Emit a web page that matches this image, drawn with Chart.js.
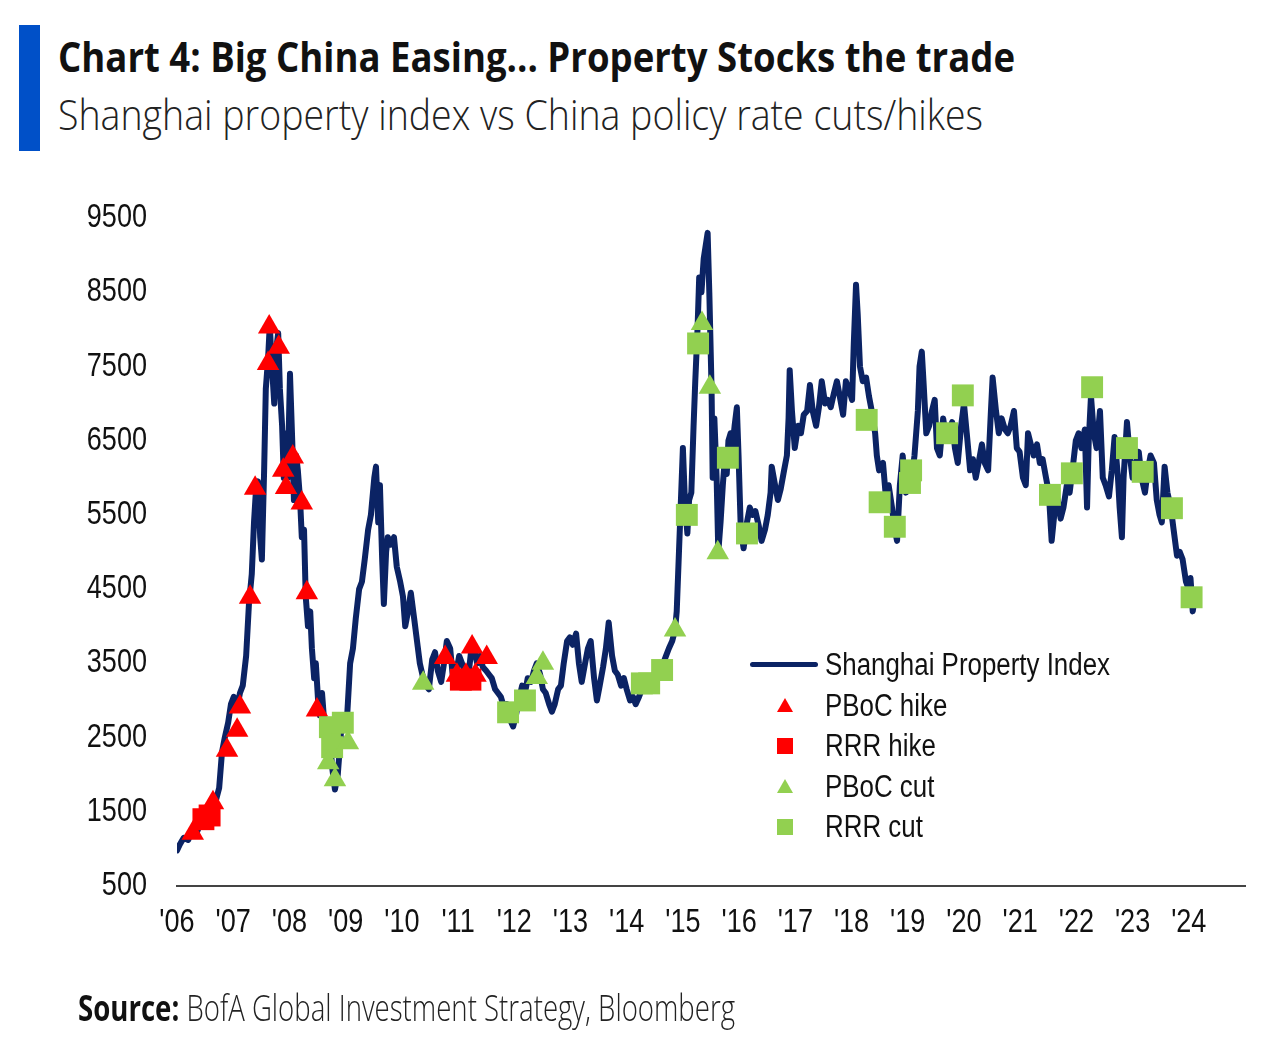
<!DOCTYPE html>
<html>
<head>
<meta charset="utf-8">
<script src="https://cdn.jsdelivr.net/npm/chart.js@4.4.1/dist/chart.umd.min.js"></script>
<style>
  body { margin: 0; background: #fff; width: 1280px; height: 1040px; overflow: hidden; position: relative; font-family: 'Open Sans', sans-serif; }
  #chart { position: absolute; left: 0; top: 0; }
  .bar { position: absolute; left: 19px; top: 25px; width: 21px; height: 126px; background: #0050c8; }
  .fit { position: absolute; white-space: nowrap; transform-origin: 0 0; color: #111; line-height: 1; }
  #title { left: 58px; top: 35px; font-size: 42px; font-weight: 700; }
  #subtitle { left: 58px; top: 93px; font-size: 42px; font-weight: 300; color: #222; }
  #source { left: 78px; top: 990px; font-size: 36px; font-weight: 300; color: #222; }
  #source b { font-weight: 700; color: #111; }
  .leg { position: absolute; left: 740px; height: 40px; display: flex; align-items: center; font-family: 'Liberation Sans', sans-serif; font-size: 31px; color: #111; }
  .leg span { display: inline-block; white-space: nowrap; transform-origin: 0 50%; }
  .sym { width: 85px; height: 40px; position: relative; flex: none; }
  .sym .ln { position: absolute; left: 10px; top: 17px; width: 68px; height: 5px; border-radius: 3px; background: #0b2364; }
  .sym .tri { position: absolute; left: 37px; top: 12px; width: 16px; height: 14px; clip-path: polygon(50% 0, 100% 100%, 0 100%); }
  .sym .sq { position: absolute; left: 37px; top: 12px; width: 16px; height: 16px; }
</style>
</head>
<body>
<div class="bar"></div>
<div class="fit" id="title">Chart 4: Big China Easing... Property Stocks the trade</div>
<div class="fit" id="subtitle">Shanghai property index vs China policy rate cuts/hikes</div>
<canvas id="chart" width="1280" height="1040"></canvas>
<div class="leg" style="top:645px"><div class="sym"><div class="ln"></div></div><span id="leg0">Shanghai Property Index</span></div>
<div class="leg" style="top:686px"><div class="sym"><div class="tri" style="background:#ff0000"></div></div><span>PBoC hike</span></div>
<div class="leg" style="top:726px"><div class="sym"><div class="sq" style="background:#ff0000"></div></div><span>RRR hike</span></div>
<div class="leg" style="top:767px"><div class="sym"><div class="tri" style="background:#92d050"></div></div><span>PBoC cut</span></div>
<div class="leg" style="top:807px"><div class="sym"><div class="sq" style="background:#92d050"></div></div><span>RRR cut</span></div>
<div class="fit" id="source"><b>Source:</b> BofA Global Investment Strategy, Bloomberg</div>

<script>
// ---------------------------------------------------------------------
// Datos (años decimales / nivel del índice)
// ---------------------------------------------------------------------
const fechas = [
  2006.00, 2006.05, 2006.12, 2006.20, 2006.27, 2006.34, 2006.41, 2006.48, 2006.55, 2006.62,
  2006.69, 2006.75, 2006.80, 2006.85, 2006.91, 2006.96, 2007.01, 2007.07, 2007.12, 2007.17,
  2007.23, 2007.28, 2007.33, 2007.37, 2007.41, 2007.44, 2007.48, 2007.51, 2007.55, 2007.58,
  2007.62, 2007.65, 2007.69, 2007.73, 2007.76, 2007.80, 2007.83, 2007.87, 2007.90, 2007.94,
  2007.97, 2008.01, 2008.05, 2008.08, 2008.12, 2008.15, 2008.19, 2008.22, 2008.26, 2008.29,
  2008.33, 2008.37, 2008.40, 2008.44, 2008.47, 2008.51, 2008.54, 2008.58, 2008.62, 2008.65,
  2008.69, 2008.72, 2008.76, 2008.81, 2008.86, 2008.92, 2008.97, 2009.02, 2009.08, 2009.13,
  2009.18, 2009.24, 2009.29, 2009.34, 2009.40, 2009.45, 2009.51, 2009.54, 2009.58, 2009.61,
  2009.65, 2009.68, 2009.72, 2009.75, 2009.80, 2009.86, 2009.91, 2009.97, 2010.02, 2010.06,
  2010.11, 2010.16, 2010.22, 2010.27, 2010.32, 2010.38, 2010.43, 2010.48, 2010.54, 2010.59,
  2010.64, 2010.70, 2010.75, 2010.80, 2010.86, 2010.91, 2010.96, 2011.02, 2011.07, 2011.12,
  2011.18, 2011.23, 2011.28, 2011.34, 2011.39, 2011.44, 2011.50, 2011.55, 2011.60, 2011.66,
  2011.71, 2011.76, 2011.82, 2011.87, 2011.92, 2011.98, 2012.03, 2012.08, 2012.14, 2012.19,
  2012.24, 2012.30, 2012.35, 2012.40, 2012.46, 2012.51, 2012.56, 2012.62, 2012.67, 2012.72,
  2012.78, 2012.83, 2012.88, 2012.94, 2012.99, 2013.04, 2013.10, 2013.15, 2013.20, 2013.26,
  2013.31, 2013.36, 2013.42, 2013.47, 2013.52, 2013.58, 2013.63, 2013.68, 2013.74, 2013.79,
  2013.84, 2013.90, 2013.95, 2014.00, 2014.06, 2014.11, 2014.16, 2014.22, 2014.27, 2014.33,
  2014.38, 2014.43, 2014.49, 2014.54, 2014.59, 2014.65, 2014.70, 2014.75, 2014.81, 2014.86,
  2014.89, 2014.93, 2014.97, 2015.00, 2015.04, 2015.08, 2015.11, 2015.15, 2015.19, 2015.22,
  2015.26, 2015.29, 2015.33, 2015.37, 2015.40, 2015.44, 2015.47, 2015.51, 2015.53, 2015.56,
  2015.60, 2015.63, 2015.67, 2015.71, 2015.74, 2015.78, 2015.81, 2015.85, 2015.88, 2015.92,
  2015.96, 2015.99, 2016.03, 2016.08, 2016.14, 2016.19, 2016.24, 2016.29, 2016.35, 2016.40,
  2016.46, 2016.51, 2016.56, 2016.58, 2016.64, 2016.69, 2016.74, 2016.80, 2016.85, 2016.88,
  2016.90, 2016.94, 2016.99, 2017.05, 2017.10, 2017.15, 2017.21, 2017.26, 2017.31, 2017.37,
  2017.42, 2017.47, 2017.53, 2017.58, 2017.63, 2017.69, 2017.74, 2017.79, 2017.85, 2017.90,
  2017.95, 2018.01, 2018.04, 2018.08, 2018.11, 2018.15, 2018.20, 2018.26, 2018.31, 2018.36,
  2018.42, 2018.45, 2018.49, 2018.56, 2018.61, 2018.66, 2018.72, 2018.77, 2018.81, 2018.86,
  2018.91, 2018.97, 2019.02, 2019.07, 2019.12, 2019.18, 2019.21, 2019.25, 2019.28, 2019.33,
  2019.38, 2019.43, 2019.48, 2019.52, 2019.57, 2019.63, 2019.68, 2019.73, 2019.79, 2019.84,
  2019.89, 2019.95, 2020.00, 2020.05, 2020.11, 2020.16, 2020.21, 2020.26, 2020.32, 2020.37,
  2020.43, 2020.48, 2020.51, 2020.57, 2020.62, 2020.67, 2020.73, 2020.78, 2020.83, 2020.89,
  2020.94, 2020.99, 2021.05, 2021.10, 2021.14, 2021.19, 2021.24, 2021.30, 2021.35, 2021.40,
  2021.46, 2021.51, 2021.56, 2021.62, 2021.67, 2021.72, 2021.77, 2021.83, 2021.88, 2021.93,
  2021.99, 2022.04, 2022.09, 2022.15, 2022.19, 2022.22, 2022.26, 2022.31, 2022.36, 2022.42,
  2022.47, 2022.52, 2022.58, 2022.63, 2022.68, 2022.74, 2022.77, 2022.81, 2022.84, 2022.90,
  2022.95, 2023.00, 2023.06, 2023.11, 2023.16, 2023.22, 2023.27, 2023.32, 2023.38, 2023.43,
  2023.48, 2023.52, 2023.57, 2023.62, 2023.68, 2023.73, 2023.79, 2023.84, 2023.89, 2023.95,
  2024.00, 2024.03, 2024.07, 2024.11
];
const indiceShanghai = [
  980, 1060, 1150, 1120, 1260, 1200, 1330, 1380, 1460, 1550,
  1650, 1820, 2300, 2500, 2700, 2950, 3050, 2900, 3100, 3200,
  3600, 4300, 4700, 5400, 5900, 5950, 5200, 4900, 6100, 7200,
  7600, 8050, 7500, 7000, 7700, 7950, 7200, 6700, 6000, 6600,
  6000, 7400, 6500, 5700, 6300, 6100, 5700, 5200, 5300, 4400,
  4000, 4200, 3700, 3300, 3500, 3000, 2800, 3100, 2700, 2500,
  2300, 2500, 2100, 1800, 2000, 2600, 2800, 2700, 3500, 3700,
  4100, 4500, 4600, 4900, 5300, 5500, 6000, 6150, 5400, 5900,
  4900, 4300, 5000, 5200, 5100, 5200, 4800, 4600, 4400, 4000,
  4200, 4450, 4100, 3800, 3500, 3300, 3200, 3150, 3550, 3650,
  3400, 3250, 3500, 3800, 3700, 3300, 3350, 3600, 3500, 3400,
  3300, 3650, 3700, 3500, 3600, 3450, 3400, 3350, 3300, 3150,
  3100, 3050, 2900, 2950, 2750, 2650, 2800, 3000, 3200, 3100,
  3300, 3250, 3400, 3500, 3350, 3150, 3100, 2950, 2850, 2950,
  3150, 3200, 3500, 3800, 3850, 3750, 3900, 3500, 3250, 3500,
  3700, 3800, 3300, 3000, 3200, 3450, 3700, 4050, 3600, 3400,
  3350, 3200, 3300, 3150, 3000, 3050, 2950, 3050, 3150, 3250,
  3300, 3250, 3350, 3400, 3450, 3500, 3600, 3700, 3800, 3950,
  4200, 5000, 5800, 6400, 5600, 5250, 5700, 5800, 6700, 7300,
  8000, 8700, 8500, 8950, 9100, 9300, 8500, 7200, 6000, 6800,
  6000, 5000, 5400, 5900, 6200, 6050, 6500, 6600, 6400, 6700,
  6950, 6300, 5300, 5050, 5400, 5600, 5500, 5550, 5350, 5150,
  5300, 5500, 5800, 6150, 5900, 5700, 5850, 6100, 6300, 6800,
  7450, 6900, 6400, 6700, 6600, 6850, 6900, 7250, 6900, 6700,
  6950, 7300, 7000, 7050, 6950, 7150, 7300, 7100, 6850, 7300,
  7200, 7050, 7800, 8600, 8200, 7500, 7300, 7350, 7100, 6900,
  6600, 6300, 6100, 6200, 5750, 5900, 5600, 5300, 5150, 5900,
  6300, 5800, 6050, 6000, 6300, 6900, 7500, 7700, 7300, 6600,
  6700, 6900, 7050, 6400, 6300, 6800, 6550, 6600, 6750, 6400,
  6200, 6700, 7000, 6600, 6100, 6250, 6000, 6200, 6450, 6200,
  6100, 6900, 7350, 6900, 6600, 6800, 6650, 6600, 6700, 6900,
  6400, 6350, 6000, 5900, 6600, 6450, 6300, 6450, 6200, 6250,
  6000, 5800, 5150, 5600, 5700, 5450, 5600, 5900, 5800, 6100,
  6500, 6600, 6400, 6650, 5600, 6500, 7100, 6600, 6400, 6900,
  6000, 5900, 5750, 6100, 6550, 6000, 5600, 5200, 6000, 6750,
  6300, 6000, 6200, 6350, 6000, 5800, 6100, 6300, 6200, 5700,
  5500, 5400, 6150, 5800, 5600, 5300, 4950, 5000, 4900, 4600,
  4500, 4650, 4200, 4400
];

// Subidas de tipos PBoC (triángulos rojos)
const pbocHikeFechas = [2006.28, 2006.64, 2006.89, 2007.07, 2007.12, 2007.30, 2007.39, 2007.62, 2007.64, 2007.81,
                        2007.89, 2007.94, 2008.06, 2008.22, 2008.31, 2008.49, 2010.77, 2010.98, 2011.14, 2011.25, 2011.31, 2011.51];
const pbocHikeValores = [1210, 1620, 2330, 2600, 2910, 4390, 5860, 7540, 8030, 7760,
                         6100, 5870, 6280, 5660, 4450, 2870, 3580, 3340, 3340, 3720, 3340, 3580];
// Subidas de RRR (cuadrados rojos)
const rrrHikeFechas = [2006.47, 2006.58, 2011.05, 2011.22];
const rrrHikeValores = [1400, 1450, 3280, 3280];
// Recortes PBoC (triángulos verdes)
const pbocCutFechas = [2008.69, 2008.81, 2009.04, 2010.38, 2012.40, 2012.51, 2014.86, 2015.34, 2015.48, 2015.62];
const pbocCutValores = [2160, 1930, 2430, 3230, 3310, 3500, 3950, 8080, 7220, 4990];
// Recortes RRR (cuadrados verdes)
const rrrCutFechas = [2008.72, 2008.76, 2008.95, 2011.89, 2012.19, 2014.27, 2014.40, 2014.63, 2015.07, 2015.27,
                      2015.80, 2016.14, 2018.27, 2018.50, 2018.77, 2019.04, 2019.06, 2019.70, 2019.98, 2021.53,
                      2021.92, 2022.28, 2022.90, 2023.18, 2023.70, 2024.05];
const rrrCutValores = [2640, 2370, 2700, 2840, 3000, 3230, 3230, 3410, 5500, 7810,
                       6270, 5250, 6780, 5670, 5340, 5930, 6100, 6600, 7110, 5770,
                       6060, 7220, 6400, 6080, 5590, 4390];

// Ejes
const xTicks = [2006, 2007, 2008, 2009, 2010, 2011, 2012, 2013, 2014, 2015, 2016, 2017, 2018, 2019, 2020, 2021, 2022, 2023, 2024];
const xTickLabels = ["'06", "'07", "'08", "'09", "'10", "'11", "'12", "'13", "'14", "'15", "'16", "'17", "'18", "'19", "'20", "'21", "'22", "'23", "'24"];
const yTicks = [500, 1500, 2500, 3500, 4500, 5500, 6500, 7500, 8500, 9500];

// ---------------------------------------------------------------------
const NAVY = '#0b2364';
const RED = '#ff0000';
const GREEN = '#92d050';

const puntos = (xs, ys) => xs.map((x, i) => ({ x: x, y: ys[i] }));

function marcadores(label, xs, ys, estilo, color, radio) {
    return {
        type: 'scatter',
        label: label,
        data: puntos(xs, ys),
        pointStyle: estilo,
        pointRadius: radio,
        pointHoverRadius: radio,
        backgroundColor: color,
        borderColor: color,
        borderWidth: 0,
        order: 0
    };
}

// Etiquetas de los ejes en letra estrecha (como la referencia)
const etiquetasEstrechas = {
    id: 'etiquetasEstrechas',
    afterDraw(chart) {
        const { ctx } = chart;
        const sx = chart.scales.x;
        const sy = chart.scales.y;
        ctx.save();
        ctx.fillStyle = '#111';
        ctx.font = '33px "Liberation Sans", sans-serif';
        ctx.textBaseline = 'middle';

        ctx.textAlign = 'right';
        yTicks.forEach((v) => {
            ctx.save();
            ctx.translate(sy.right - 30, sy.getPixelForValue(v));
            ctx.scale(0.82, 1);
            ctx.fillText(String(v), 0, 0);
            ctx.restore();
        });

        ctx.textAlign = 'center';
        xTicks.forEach((v, i) => {
            ctx.save();
            ctx.translate(sx.getPixelForValue(v), sx.top + 37);
            ctx.scale(0.82, 1);
            ctx.fillText(xTickLabels[i], 0, 0);
            ctx.restore();
        });
        ctx.restore();
    }
};

new Chart(document.getElementById('chart').getContext('2d'), {
    type: 'line',
    data: {
        datasets: [
            marcadores('PBoC cut', pbocCutFechas, pbocCutValores, 'triangle', GREEN, 13),
            marcadores('RRR cut', rrrCutFechas, rrrCutValores, 'rect', GREEN, 15.5),
            marcadores('PBoC hike', pbocHikeFechas, pbocHikeValores, 'triangle', RED, 13),
            marcadores('RRR hike', rrrHikeFechas, rrrHikeValores, 'rect', RED, 15.5),
            {
                label: 'Shanghai Property Index',
                data: puntos(fechas, indiceShanghai),
                borderColor: NAVY,
                borderWidth: 6,
                borderJoinStyle: 'round',
                borderCapStyle: 'round',
                pointRadius: 0,
                tension: 0,
                fill: false,
                order: 1
            }
        ]
    },
    options: {
        responsive: false,
        animation: false,
        devicePixelRatio: 1,
        layout: { padding: { left: 0, right: 35, top: 218, bottom: 0 } },
        plugins: { legend: { display: false }, tooltip: { enabled: false } },
        scales: {
            x: {
                type: 'linear',
                min: 2006,
                max: 2025,
                grid: { display: false, drawTicks: false },
                border: { display: true, color: '#444', width: 2 },
                afterBuildTicks: (s) => { s.ticks = xTicks.map(v => ({ value: v })); },
                afterFit: (s) => { s.height = 154; },
                ticks: { display: false }
            },
            y: {
                min: 500,
                max: 9500,
                grid: { display: false, drawTicks: false },
                border: { display: false },
                afterBuildTicks: (s) => { s.ticks = yTicks.map(v => ({ value: v })); },
                afterFit: (s) => { s.width = 177; },
                ticks: { display: false }
            }
        }
    },
    plugins: [etiquetasEstrechas]
});

// Ajustar el ancho de los textos al de la referencia
function ajustar(id, ancho) {
    const el = document.getElementById(id);
    const w = el.getBoundingClientRect().width;
    if (w > 0) el.style.transform = 'scaleX(' + (ancho / w) + ')';
    return ancho / w;
}
ajustar('title', 957);
ajustar('subtitle', 925);
ajustar('source', 657);
const f = ajustar('leg0', 285);
document.querySelectorAll('.leg span').forEach((s) => { s.style.transform = 'scaleX(' + f + ')'; });
</script>
</body>
</html>
